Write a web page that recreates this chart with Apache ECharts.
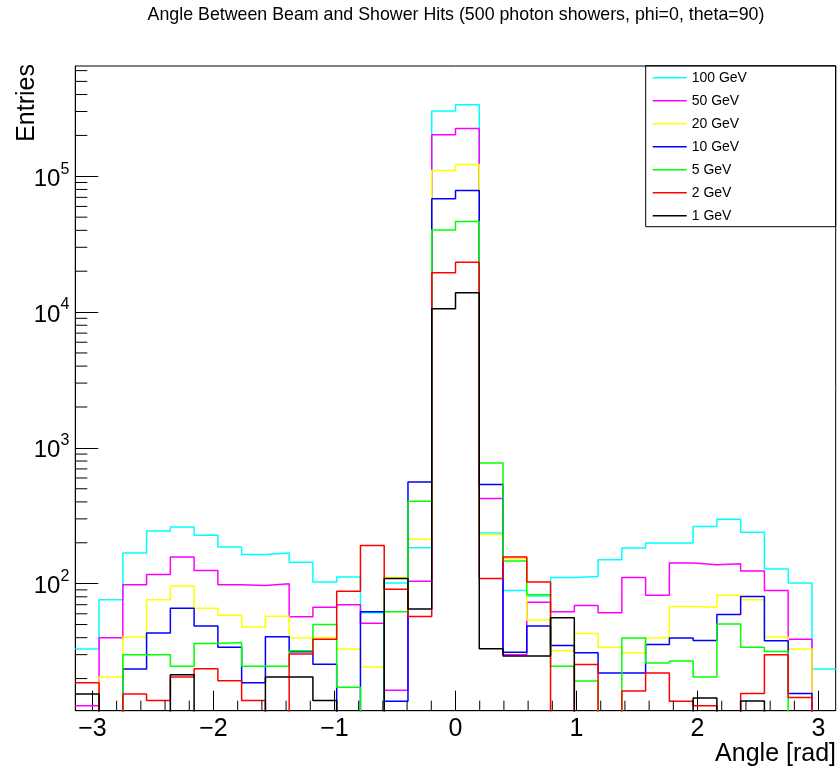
<!DOCTYPE html>
<html>
<head>
<meta charset="utf-8">
<script src="https://cdn.jsdelivr.net/npm/echarts@6/dist/echarts.min.js"></script>
<style>
html,body{margin:0;padding:0;background:#fff;}
#chart{width:840px;height:776px;}
</style>
</head>
<body>
<div id="chart"></div>
<script>
// ---------------- data ----------------
const title = 'Angle Between Beam and Shower Hits (500 photon showers, phi=0, theta=90)';
const xTitle = 'Angle [rad]';
const yTitle = 'Entries';
const seriesNames = ['100 GeV', '50 GeV', '20 GeV', '10 GeV', '5 GeV', '2 GeV', '1 GeV'];
const seriesColors = ['#00ffff', '#ff00ff', '#ffff00', '#0000ff', '#00ff00', '#ff0000', '#000000'];
const nBins = 32;
const xMin = -Math.PI, xMax = Math.PI;
const yMin = 11.6, yMax = 649000;
const xTickLabels = [-3, -2, -1, 0, 1, 2, 3];

// bin contents (0 = empty / below axis range)
const e100 = [33, 76, 168, 244, 261, 227, 186, 164, 168, 144, 103, 112, 61, 101, 184, 302000, 336000, 236, 89, 81, 111, 113, 150, 183, 199, 199, 264, 298, 239, 128, 101, 23.5];
const e50  = [12.6, 40, 98, 117, 157, 125, 98, 97, 100, 57, 67, 70, 51, 16.4, 104, 202000, 225000, 423, 30, 73, 62, 69, 61, 111, 82, 142, 138, 140, 124, 89, 39, 0];
const e20  = [0, 20.5, 40.5, 76, 96, 66, 58.6, 48, 57.5, 40, 40, 33, 24.3, 111, 212, 110500, 122300, 230, 153, 54, 32, 43, 34, 31, 40, 68, 67, 82, 76, 40.5, 33, 0];
const e10  = [0, 0, 23.5, 43.4, 66, 48.8, 34, 18.6, 40.6, 31.5, 25.5, 0, 62, 13.6, 560, 68400, 78700, 538, 31.3, 48.8, 35, 31, 22, 22, 35.7, 39.8, 38.2, 59.4, 80.6, 38, 15.5, 0];
const e5   = [0, 0, 30, 30, 24.7, 36.2, 36.8, 24.7, 24.7, 32, 50, 17.3, 0, 62, 404, 40200, 46500, 773, 147, 83, 24.6, 19.2, 0, 39.8, 26, 26.9, 20.5, 50.4, 34, 31.7, 0, 0];
const e2   = [18.6, 0, 15.4, 13.8, 20.5, 23.6, 19.3, 13.8, 0, 30.3, 39, 88, 191, 91, 57.4, 19500, 23300, 109, 157, 103, 0, 25.4, 0, 16.2, 22, 13.6, 12.6, 0, 15.5, 30, 14.5, 0];
const e1   = [15.4, 0, 0, 0, 21.3, 0, 0, 0, 20.5, 20.5, 13.8, 0, 0, 109, 65, 10600, 13900, 33.2, 29.3, 29.3, 56, 0, 0, 0, 0, 0, 14.4, 0, 13.7, 0, 0, 0];
const allValues = [e100, e50, e20, e10, e5, e2, e1];

// ---------------- build ----------------
const binEdges = [];
for (let i = 0; i <= nBins; i++) binEdges.push(xMin + i * (xMax - xMin) / nBins);

function histPoints(vals) {
  const pts = [];
  for (let i = 0; i < nBins; i++) pts.push([binEdges[i], vals[i] > 0 ? vals[i] : 1]);
  pts.push([binEdges[nBins], vals[nBins - 1] > 0 ? vals[nBins - 1] : 1]);
  return pts;
}

const xMinorTicks = [];
for (let k = -16; k <= 16; k++) {
  const v = k * 0.2;
  if (Math.abs(v - Math.round(v)) > 1e-6 && v > xMin && v < xMax) xMinorTicks.push(+v.toFixed(1));
}
const yMinorTicks = [];
for (let e = 1; e <= 5; e++) for (let m = 2; m <= 9; m++) {
  const v = m * Math.pow(10, e);
  if (v > yMin && v < yMax) yMinorTicks.push(v);
}

const FONT = '"Liberation Sans", Arial, Helvetica, sans-serif';

const series = seriesNames.map((name, i) => ({
  name: name,
  type: 'line',
  step: 'end',
  symbol: 'none',
  showSymbol: false,
  clip: true,
  silent: true,
  lineStyle: { color: seriesColors[i], width: 1.5 },
  itemStyle: { color: seriesColors[i] },
  data: histPoints(allValues[i]),
  z: 2 + i
}));

series.push({
  type: 'custom',
  silent: true,
  clip: false,
  z: 20,
  data: xMinorTicks.map(v => [v, 100]),
  renderItem: function (params, api) {
    const cs = params.coordSys;
    const x = api.coord([api.value(0), 100])[0];
    const y0 = cs.y + cs.height;
    return { type: 'line', shape: { x1: x, y1: y0, x2: x, y2: y0 - 10 }, style: { stroke: '#000', lineWidth: 1 } };
  }
});
series.push({
  type: 'custom',
  silent: true,
  clip: false,
  z: 20,
  data: yMinorTicks.map(v => [0, v]),
  renderItem: function (params, api) {
    const cs = params.coordSys;
    const y = api.coord([0, api.value(1)])[1];
    return { type: 'line', shape: { x1: cs.x, y1: y, x2: cs.x + 12, y2: y }, style: { stroke: '#000', lineWidth: 1 } };
  }
});

const chart = echarts.init(document.getElementById('chart'), null, { renderer: 'canvas' });
chart.setOption({
  animation: false,
  backgroundColor: '#ffffff',
  textStyle: { fontFamily: FONT },
  title: {
    text: title,
    left: 451, top: 1, textAlign: 'center',
    textStyle: { fontFamily: FONT, fontSize: 17.8, fontWeight: 'normal', color: '#000' }
  },
  grid: {
    left: 75.3, right: 4.3, top: 66, bottom: 65.3,
    containLabel: false,
    outerBoundsMode: 'none',
    show: true, borderColor: '#000', borderWidth: 1, backgroundColor: 'transparent'
  },
  legend: {
    data: seriesNames,
    orient: 'vertical',
    left: 652.7, top: 70.7,
    padding: 0,
    icon: 'path://M0,0 L34,0 L34,1.5 L0,1.5 Z',
    symbolKeepAspect: true,
    itemWidth: 34, itemHeight: 14, itemGap: 9,
    textStyle: { fontFamily: FONT, fontSize: 14, color: '#000' },
    selectedMode: false
  },
  xAxis: {
    type: 'value', min: xMin, max: xMax,
    axisLine: { onZero: false, lineStyle: { color: '#000', width: 1 } },
    axisTick: { inside: true, length: 20, lineStyle: { color: '#000', width: 1 } },
    splitLine: { show: false },
    axisLabel: {
      showMinLabel: false, showMaxLabel: false, margin: 6,
      fontFamily: FONT, fontSize: 25, color: '#000',
      formatter: v => {
        const r = Math.round(v);
        if (Math.abs(v - r) > 1e-6 || xTickLabels.indexOf(r) < 0) return '';
        return r < 0 ? '\u2212' + Math.abs(r) : String(r);
      }
    }
  },
  yAxis: {
    type: 'log', logBase: 10, min: yMin, max: yMax,
    axisLine: { onZero: false, lineStyle: { color: '#000', width: 1 } },
    axisTick: { inside: true, length: 23, lineStyle: { color: '#000', width: 1 } },
    splitLine: { show: false },
    minorTick: { show: false },
    axisLabel: {
      showMinLabel: false, showMaxLabel: false, margin: 6,
      formatter: v => '{b|10}{s|' + Math.round(Math.log10(v)) + '}',
      rich: {
        b: { fontFamily: FONT, fontSize: 24, color: '#000', padding: [6, 0, 0, 0] },
        s: { fontFamily: FONT, fontSize: 16, color: '#000', verticalAlign: 'top' }
      }
    }
  },
  graphic: [
    {
      type: 'rect', silent: true, z: 100,
      shape: { x: 645.7, y: 65.7, width: 190, height: 161 },
      style: { fill: 'none', stroke: '#000', lineWidth: 1 }
    },
    {
      type: 'text', silent: true, z: 100,
      x: 27, y: 64, rotation: Math.PI / 2,
      style: { text: yTitle, fontFamily: FONT, fontSize: 25, fill: '#000', align: 'right', verticalAlign: 'middle' }
    },
    {
      type: 'text', silent: true, z: 100,
      x: 836, y: 742,
      style: { text: xTitle, fontFamily: FONT, fontSize: 25, fill: '#000', align: 'right', verticalAlign: 'top' }
    }
  ],
  series: series
});
</script>
</body>
</html>
